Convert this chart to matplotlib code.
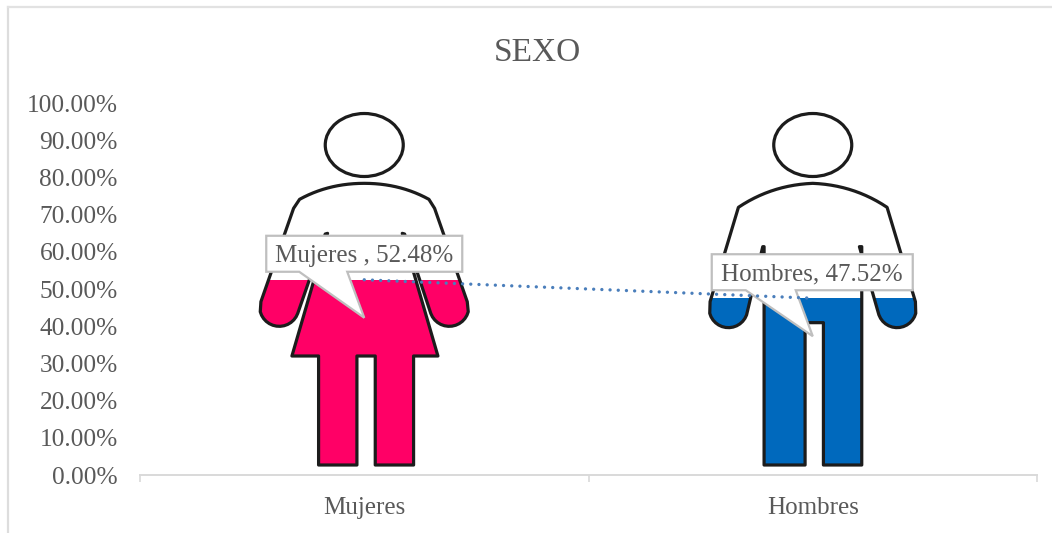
import matplotlib
matplotlib.use("Agg")
import numpy as np
import matplotlib.pyplot as plt
from matplotlib.patches import Polygon, Ellipse
from matplotlib.lines import Line2D

categories = ["Mujeres", "Hombres"]
values = [52.48, 47.52]
fill_colors = ["#FF0066", "#0069BD"]
label_texts = ["Mujeres , 52.48%", "Hombres, 47.52%"]
y_ticks = [0, 10, 20, 30, 40, 50, 60, 70, 80, 90, 100]
title = "SEXO"

W, H = 1052, 533
plt.rcParams["font.family"] = ["Liberation Serif", "DejaVu Serif"]
GREY = "#595959"
LINE = "#D9D9D9"
INK = "#1c1c1c"

fig = plt.figure(figsize=(W / 100, H / 100), dpi=100)
L, R, T, B = 140, 1037, 103, 475
ax = fig.add_axes([L / W, 1 - B / H, (R - L) / W, (B - T) / H])
ax.set_xlim(-0.5, 1.5)
ax.set_ylim(0, 100)
ax.patch.set_alpha(0)

sx = (R - L) / 2      # pixels per category
sy = (B - T) / 100    # pixels per percent


def to_data(i, pts):
    """pictogram points (px offset from category centre, px above baseline)"""
    return [(i + x / sx, y / sy) for x, y in pts]


def zoomed(cx, pts):
    """outline drafted on a 3x grid: x from the centre line, y from the top at 100px"""
    return [((x - cx) / 3, B - (100 + y / 3)) for x, y in pts]


def arc(cx, cy, r, a0, a1, n=14):
    t = np.radians(np.linspace(a0, a1, n))
    return [(cx + r * np.cos(a), cy + r * np.sin(a)) for a in t]


def curve(p0, c, p1, n=14):
    t = np.linspace(0, 1, n)
    return [((1 - u) ** 2 * p0[0] + 2 * u * (1 - u) * c[0] + u ** 2 * p1[0],
             (1 - u) ** 2 * p0[1] + 2 * u * (1 - u) * c[1] + u ** 2 * p1[1]) for u in t]


woman = zoomed(372, (
    curve((372, 250), (265, 250), (178, 298))
    + [(160, 325), (62, 605)]
    + arc(117, 620, 59, 165, 20)
    + [(255, 402), (262, 400), (155, 768), (235, 768), (235, 1095), (350, 1095),
       (350, 768), (405, 768), (405, 1095), (520, 1095), (520, 768), (593, 768), (486, 400), (493, 402)]
    + arc(627, 620, 59, 160, 15)
    + [(681, 605), (583, 325)]
    + curve((566, 298), (479, 250), (372, 250))
))
man = zoomed(368, (
    curve((368, 250), (245, 255), (145, 322))
    + [(60, 605)]
    + arc(115, 625, 58, 165, 20)
    + [(218, 440), (222, 440), (222, 1095), (345, 1095), (345, 668),
       (400, 668), (400, 1095), (515, 1095), (515, 440), (508, 440)]
    + arc(621, 625, 58, 160, 15)
    + [(676, 605)]
    + curve((591, 322), (491, 255), (368, 250))
))
outlines = [woman, man]

# frame of the chart: left and top edges only
fig.add_artist(Line2D([8.3 / W, 8.3 / W], [0, 1 - 6.5 / H], color="#DDDDDD", lw=1.6))
fig.add_artist(Line2D([8.3 / W, 1], [1 - 6.5 / H, 1 - 6.5 / H], color="#E2E2E2", lw=1.6))

# pictograms filled up to the value
for i, (outline, v, c) in enumerate(zip(outlines, values, fill_colors)):
    body = Polygon(to_data(i, outline), closed=True, fc="white", ec="none", zorder=1)
    ax.add_patch(body)
    bar = ax.bar(i, v, width=0.6, color=c, zorder=2)[0]
    bar.set_clip_path(body)
    ax.add_patch(Polygon(to_data(i, outline), closed=True, fc="none", ec=INK, lw=2.3,
                         joinstyle="round", zorder=3))
    ax.add_patch(Ellipse((i, (B - 145) / sy), 78 / sx, 63 / sy, fc="white", ec=INK, lw=2.3, zorder=3))

# callouts
box_geo = [(-98, 98, 44, 8, -65, -17), (-101, 100, 44, 8, -67, -17)]
for i, (v, txt, g) in enumerate(zip(values, label_texts, box_geo)):
    x0, x1, top, bot, b0, b1 = g
    base = v * sy
    pts = [(x0, base + top), (x1, base + top), (x1, base + bot), (b1, base + bot), (0, base - 38),
           (b0, base + bot), (x0, base + bot)]
    ax.add_patch(Polygon(to_data(i, pts), closed=True, fc="white", ec="#BFBFBF", lw=1.6, zorder=4))
    ax.text(i + (x0 + x1) / 2 / sx, (base + (top + bot) / 2 - 2) / sy, txt, ha="center", va="center",
            fontsize=18, color=GREY, zorder=6)

# trend line through the values
ax.plot(range(len(values)), values, color="#4A7EBB", lw=2.4, linestyle=(0, (0.01, 2.45)),
        dash_capstyle="round", zorder=5)

# axes
for s in ("top", "right", "left"):
    ax.spines[s].set_visible(False)
ax.spines["bottom"].set_color(LINE)
ax.spines["bottom"].set_linewidth(1.4)
ax.set_xticks([-0.5, 0.5, 1.5])
ax.set_xticklabels([])
ax.tick_params(axis="x", length=5, width=1.2, color=LINE, direction="out")
ax.set_xticks([0, 1], minor=True)
ax.set_xticklabels(categories, minor=True, fontsize=18, color=GREY)
ax.tick_params(axis="x", which="minor", length=0, pad=15.5)
ax.set_yticks(y_ticks)
ax.set_yticklabels([f"{t:.2f}%" for t in y_ticks], fontsize=18.3, color=GREY)
ax.tick_params(axis="y", length=0, pad=16)

fig.text(537 / W, 1 - 53 / H, title, ha="center", va="center", fontsize=24, color=GREY)

fig.savefig("out.png", dpi=100, facecolor="white")
